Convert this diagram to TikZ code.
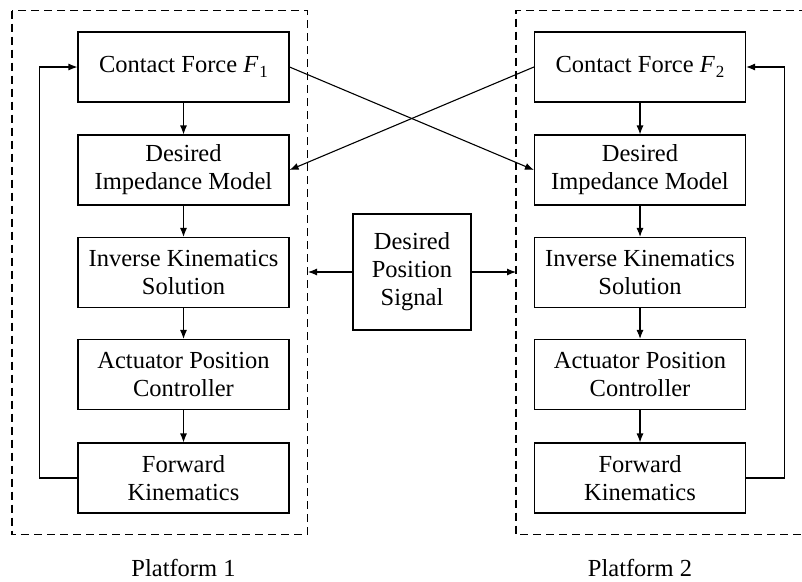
\documentclass[tikz,border=0pt]{standalone}
\usepackage{fontspec}
\setmainfont{Liberation Serif}
\newfontfamily\blockface{Liberation Serif}
\usetikzlibrary{arrows.meta}
% force symbol with an upright, lowered index
\newcommand{\forcesym}[1]{\textit{F}\kern1pt\raisebox{-0.22em}{\fontsize{17}{17}\selectfont #1}}
\begin{document}
\begin{tikzpicture}[x=1pt,y=-1pt,
  blk/.style={draw,line width=1.1pt,minimum width=211pt,minimum height=70pt,
    align=center,inner sep=0pt,font=\blockface\fontsize{24.5}{28}\selectfont},
  lbl/.style={font=\blockface\fontsize{24.5}{28}\selectfont,anchor=base},
  frame/.style={draw,line width=1.1pt,dash pattern=on 8pt off 5pt},
  conn/.style={line width=1.1pt,-{Latex[length=9pt,width=7pt]}}]
\useasboundingbox (0,0) rectangle (802,581);
\begin{scope}
\clip (0,0) rectangle (802,581);
% platform frames
\draw[frame] (12,10.5) rectangle (307.5,534.5);
\draw[frame] (820,10.5) -- (516,10.5) -- (516,534.5) -- (820,534.5);
\end{scope}

% platform 1 chain
\node[blk] (cf1) at (183.5,67)  {Contact Force \forcesym{1}};
\node[blk] (di1) at (183.5,170) {Desired\\Impedance Model};
\node[blk] (ik1) at (183.5,272.5) {Inverse Kinematics\\Solution};
\node[blk] (ap1) at (183.5,374.5) {Actuator Position\\Controller};
\node[blk] (fk1) at (183.5,478) {Forward\\Kinematics};

% platform 2 chain
\node[blk] (cf2) at (640,67)  {Contact Force \forcesym{2}};
\node[blk] (di2) at (640,170) {Desired\\Impedance Model};
\node[blk] (ik2) at (640,272.5) {Inverse Kinematics\\Solution};
\node[blk] (ap2) at (640,374.5) {Actuator Position\\Controller};
\node[blk] (fk2) at (640,478) {Forward\\Kinematics};

% shared reference
\node[blk,minimum width=118pt,minimum height=116pt] (dps) at (412,272) {Desired\\Position\\Signal};
\coordinate (p1in) at (308,272);
\coordinate (p2in) at (516,272);

\node[lbl] (pl1) at (183.5,576) {Platform 1};
\node[lbl] (pl2) at (640,576) {Platform 2};

% forward paths
\foreach \s in {1,2}{
  \draw[conn] (cf\s) -- (di\s);
  \draw[conn] (di\s) -- (ik\s);
  \draw[conn] (ik\s) -- (ap\s);
  \draw[conn] (ap\s) -- (fk\s);
}

% feedback loops
\draw[conn] (fk1.west) -- ++(-38,0) |- (cf1.west);
\draw[conn] (fk2.east) -- ++(38,0) |- (cf2.east);

% force coupling
\draw[conn] (cf1.east) -- (di2.west);
\draw[conn] (cf2.west) -- (di1.east);

% desired position distribution
\draw[conn] (dps.west) -- (p1in);
\draw[conn] (dps.east) -- (p2in);
\end{tikzpicture}
\end{document}
